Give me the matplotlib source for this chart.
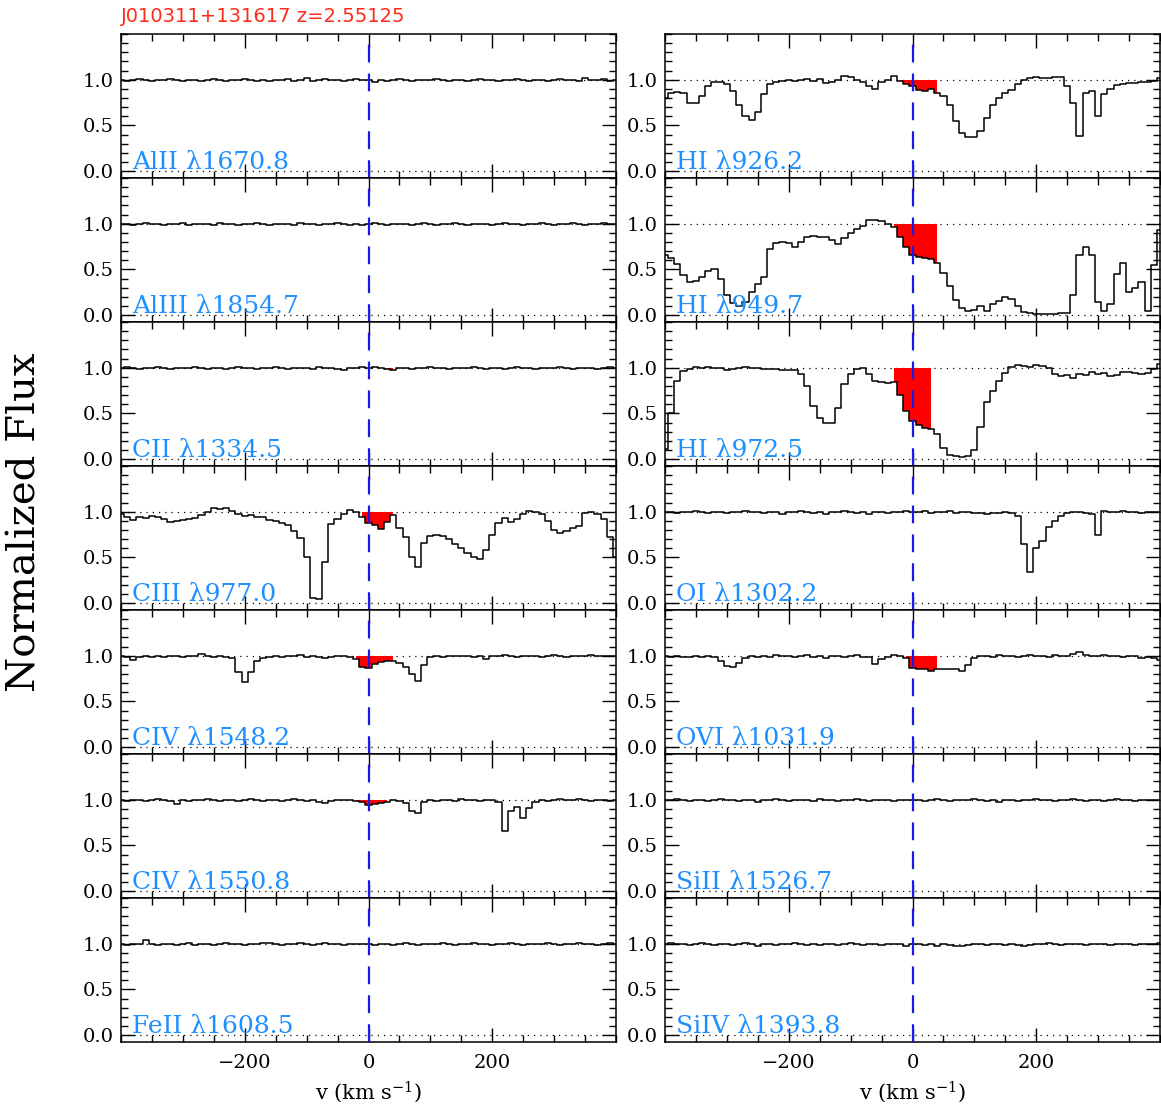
import numpy as np
import matplotlib
matplotlib.use("Agg")
import matplotlib.pyplot as plt
from matplotlib.ticker import MultipleLocator, FixedLocator

plt.rcParams['font.family'] = 'DejaVu Serif'
plt.rcParams['mathtext.fontset'] = 'dejavuserif'

# velocity grid (km/s), 10 km/s pixels
vel = np.arange(-400, 401, 10)

title = "J010311+131617 z=2.55125"

# left column, top to bottom
left_labels = ["AlII λ1670.8", "AlIII λ1854.7", "CII λ1334.5", "CIII λ977.0",
               "CIV λ1548.2", "CIV λ1550.8", "FeII λ1608.5"]
# right column, top to bottom
right_labels = ["HI λ926.2", "HI λ949.7", "HI λ972.5", "OI λ1302.2",
                "OVI λ1031.9", "SiII λ1526.7", "SiIV λ1393.8"]

# normalized flux, v = -400 ... 400
alii_1670 = [1.00, 0.99, 1.00, 1.01, 1.00, 0.99, 1.00, 1.00, 1.01, 1.00,
             0.99, 1.00, 1.00, 0.99, 1.00, 1.01, 1.00, 0.99, 1.00, 1.00,
             1.01, 1.00, 0.99, 1.00, 0.99, 1.00, 1.00, 1.01, 0.99, 1.00,
             1.02, 0.99, 1.00, 1.01, 1.00, 1.00, 0.99, 1.00, 1.01, 1.00,
             1.00, 0.97, 1.00, 0.99, 1.00, 1.01, 1.00, 0.99, 1.00, 1.00,
             1.00, 1.01, 1.00, 0.99, 1.00, 1.00, 0.99, 1.00, 1.01, 1.00,
             1.00, 0.99, 1.00, 1.00, 1.01, 1.00, 0.99, 1.00, 1.00, 0.99,
             1.00, 1.01, 1.00, 1.00, 0.99, 1.02, 1.00, 1.00, 1.01, 0.99,
             1.00]
aliii_1854 = [1.00, 1.00, 0.99, 1.00, 1.01, 1.00, 1.00, 0.99, 1.00, 1.00,
              1.01, 0.99, 1.00, 1.00, 1.00, 0.99, 1.01, 1.00, 1.00, 0.99,
              1.00, 1.00, 1.01, 1.00, 0.99, 1.00, 1.00, 1.00, 0.99, 1.01,
              1.00, 1.00, 0.99, 1.00, 1.00, 1.01, 1.00, 0.99, 1.00, 0.99,
              1.00, 1.01, 1.00, 0.99, 1.00, 1.00, 1.00, 0.99, 1.00, 1.01,
              1.00, 0.99, 1.00, 1.00, 1.01, 1.00, 0.99, 1.00, 1.00, 1.00,
              0.99, 1.00, 1.01, 1.00, 1.00, 0.99, 1.00, 1.00, 1.01, 1.00,
              0.99, 1.00, 1.00, 1.01, 1.00, 0.99, 1.00, 1.00, 1.01, 1.00,
              1.00]
cii_1334 = [1.00, 1.01, 1.00, 0.99, 1.00, 1.00, 1.01, 1.00, 0.99, 1.00,
            1.00, 1.00, 1.01, 1.00, 0.99, 1.00, 1.00, 0.99, 1.00, 1.01,
            1.00, 1.00, 0.99, 1.00, 1.00, 1.01, 1.00, 0.99, 1.00, 1.00,
            1.00, 0.99, 1.01, 1.00, 1.00, 0.99, 0.98, 1.00, 1.00, 1.01,
            1.00, 1.01, 1.00, 0.99, 0.97, 1.00, 1.00, 0.99, 1.00, 1.00,
            1.01, 1.00, 1.00, 0.99, 1.00, 1.00, 1.00, 1.01, 1.00, 0.99,
            1.00, 1.00, 0.99, 1.00, 1.01, 1.00, 1.00, 0.99, 1.00, 1.00,
            1.00, 1.01, 1.00, 0.99, 1.00, 1.00, 1.00, 0.99, 1.00, 1.01,
            1.00]
ciii_977 = [0.98, 0.94, 0.91, 0.94, 0.93, 0.95, 0.94, 0.92, 0.89, 0.90,
            0.91, 0.92, 0.93, 0.96, 1.00, 1.04, 1.03, 1.04, 1.01, 0.98,
            0.95, 0.96, 0.94, 0.94, 0.91, 0.90, 0.88, 0.85, 0.79, 0.71,
            0.50, 0.06, 0.04, 0.45, 0.87, 0.92, 0.97, 1.02, 1.00, 0.94,
            0.88, 0.86, 0.81, 0.89, 0.96, 0.82, 0.72, 0.50, 0.40, 0.66,
            0.73, 0.74, 0.73, 0.70, 0.65, 0.60, 0.55, 0.51, 0.48, 0.58,
            0.74, 0.88, 0.93, 0.89, 0.92, 0.98, 1.01, 1.00, 0.97, 0.90,
            0.80, 0.77, 0.79, 0.82, 0.84, 0.99, 1.00, 0.98, 0.92, 0.72,
            0.50]
civ_1548 = [1.00, 0.99, 0.95, 0.99, 1.00, 0.99, 1.00, 0.99, 1.00, 1.00,
            0.99, 1.00, 1.00, 1.02, 1.00, 0.99, 1.00, 0.99, 0.97, 0.82,
            0.71, 0.82, 0.94, 0.98, 0.99, 1.00, 0.99, 1.00, 1.00, 1.01,
            0.99, 1.00, 0.99, 0.98, 0.99, 1.00, 1.00, 0.99, 0.96, 0.88,
            0.87, 0.91, 0.93, 0.94, 0.94, 0.92, 0.88, 0.80, 0.72, 0.90,
            0.99, 1.00, 0.99, 1.00, 1.00, 1.00, 1.00, 0.99, 1.00, 0.96,
            1.00, 1.00, 1.01, 1.00, 0.99, 1.00, 1.00, 1.00, 0.99, 1.00,
            1.01, 1.00, 0.99, 1.00, 1.00, 1.00, 1.01, 1.00, 1.00, 1.00,
            1.00]
civ_1550 = [1.00, 0.99, 1.00, 1.00, 0.99, 1.00, 1.01, 1.00, 0.99, 0.95,
            1.00, 0.99, 1.00, 1.00, 1.01, 1.00, 0.99, 1.00, 1.00, 0.99,
            1.00, 1.01, 1.00, 0.99, 1.00, 1.00, 0.99, 1.00, 1.01, 1.00,
            0.99, 1.00, 0.98, 0.96, 0.99, 1.00, 1.00, 1.00, 0.99, 0.97,
            0.94, 0.95, 0.96, 0.97, 1.00, 0.99, 0.96, 0.88, 0.86, 0.97,
            1.00, 0.99, 1.00, 1.00, 0.99, 1.01, 1.00, 1.00, 0.99, 1.00,
            1.00, 0.97, 0.66, 0.88, 0.92, 0.80, 0.91, 0.97, 1.00, 0.99,
            1.00, 1.01, 1.00, 1.00, 1.01, 1.00, 0.99, 1.00, 1.00, 0.99,
            1.00]
feii_1608 = [1.00, 0.99, 1.00, 1.00, 1.04, 1.00, 0.99, 1.00, 1.00, 0.99,
             1.00, 1.01, 0.99, 1.00, 1.00, 0.99, 1.00, 1.01, 1.00, 1.00,
             0.99, 1.00, 1.00, 1.01, 1.01, 1.00, 0.99, 1.00, 1.00, 1.01,
             1.00, 0.99, 1.00, 1.01, 1.00, 1.00, 0.99, 1.00, 1.00, 1.00,
             1.00, 0.99, 1.00, 1.00, 0.99, 1.00, 1.01, 1.00, 0.99, 1.00,
             1.00, 1.00, 1.01, 1.00, 0.99, 1.00, 1.00, 1.01, 1.00, 1.00,
             0.99, 1.00, 1.00, 1.01, 1.00, 0.99, 1.00, 1.00, 1.00, 1.01,
             1.00, 0.99, 1.00, 1.00, 1.01, 1.00, 1.00, 0.99, 1.00, 1.01,
             1.00]
hi_926 = [0.80, 0.86, 0.87, 0.86, 0.75, 0.74, 0.82, 0.93, 0.98, 0.97,
          0.95, 0.88, 0.72, 0.60, 0.56, 0.65, 0.84, 0.95, 0.98, 0.99,
          1.00, 0.99, 1.00, 1.01, 0.99, 1.01, 0.96, 0.98, 1.00, 1.04,
          1.03, 1.00, 0.98, 0.93, 0.90, 0.98, 1.00, 1.04, 0.99, 0.95,
          0.93, 0.89, 0.88, 0.90, 0.86, 0.82, 0.72, 0.55, 0.42, 0.37,
          0.37, 0.44, 0.58, 0.72, 0.80, 0.85, 0.89, 0.95, 1.00, 1.02,
          1.03, 1.02, 1.02, 1.03, 1.03, 0.93, 0.75, 0.38, 0.85, 0.88,
          0.60, 0.84, 0.90, 0.94, 0.95, 0.96, 0.96, 0.97, 0.97, 0.99,
          1.02]
hi_949 = [0.66, 0.63, 0.56, 0.44, 0.36, 0.37, 0.42, 0.48, 0.50, 0.40,
          0.22, 0.13, 0.10, 0.14, 0.25, 0.34, 0.42, 0.72, 0.79, 0.80,
          0.79, 0.74, 0.80, 0.86, 0.87, 0.85, 0.86, 0.82, 0.78, 0.84,
          0.90, 0.94, 0.98, 1.04, 1.04, 1.03, 1.00, 0.96, 0.86, 0.75,
          0.66, 0.64, 0.62, 0.61, 0.57, 0.46, 0.32, 0.17, 0.08, 0.04,
          0.06, 0.10, 0.05, 0.12, 0.16, 0.20, 0.18, 0.10, 0.03, 0.02,
          0.01, 0.01, 0.01, 0.01, 0.02, 0.02, 0.22, 0.66, 0.75, 0.66,
          0.14, 0.04, 0.12, 0.45, 0.57, 0.25, 0.30, 0.36, 0.05, 0.55,
          0.93]
hi_972 = [0.11, 0.50, 0.85, 0.96, 0.99, 1.01, 1.00, 1.01, 1.00, 1.00,
          0.97, 0.99, 1.00, 1.01, 1.00, 1.00, 0.99, 0.99, 0.99, 0.98,
          0.98, 0.97, 0.93, 0.80, 0.58, 0.45, 0.39, 0.40, 0.56, 0.82,
          0.93, 0.99, 1.00, 0.93, 0.85, 0.84, 0.83, 0.84, 0.70, 0.53,
          0.42, 0.37, 0.34, 0.33, 0.27, 0.12, 0.05, 0.03, 0.02, 0.03,
          0.10, 0.35, 0.62, 0.74, 0.85, 0.94, 1.01, 1.03, 1.02, 1.01,
          1.03, 1.02, 1.00, 0.93, 0.91, 0.92, 0.89, 0.93, 0.92, 0.95,
          0.93, 0.94, 0.91, 0.92, 0.95, 0.95, 0.94, 0.93, 0.94, 0.99,
          1.04]
oi_1302 = [1.00, 1.00, 0.99, 1.00, 1.00, 1.01, 1.00, 0.99, 1.00, 1.00,
           0.99, 1.00, 1.00, 1.01, 1.00, 1.00, 0.99, 1.00, 1.00, 0.98,
           1.00, 1.00, 1.01, 1.00, 0.99, 1.00, 0.97, 1.00, 1.00, 1.01,
           1.00, 0.99, 1.00, 0.98, 1.00, 1.00, 0.99, 1.00, 1.00, 1.01,
           1.00, 1.00, 1.01, 0.99, 1.00, 1.00, 1.01, 0.99, 1.00, 1.00,
           0.99, 0.99, 0.98, 0.99, 0.99, 1.00, 0.99, 0.95, 0.65, 0.34,
           0.60, 0.68, 0.83, 0.90, 0.95, 0.99, 1.00, 1.00, 0.99, 0.98,
           0.74, 1.01, 1.00, 1.00, 1.01, 1.00, 1.00, 0.99, 1.00, 1.00,
           1.00]
ovi_1031 = [1.00, 0.99, 1.00, 0.99, 0.99, 1.00, 0.99, 1.00, 0.99, 0.94,
            0.89, 0.88, 0.92, 0.98, 1.00, 0.99, 1.00, 0.99, 1.01, 1.00,
            1.00, 0.99, 1.00, 1.01, 0.99, 1.00, 0.98, 1.00, 1.00, 0.99,
            1.00, 1.01, 0.99, 0.99, 0.91, 0.96, 0.99, 1.01, 1.00, 0.97,
            0.87, 0.86, 0.85, 0.83, 0.86, 0.86, 0.86, 0.85, 0.83, 0.90,
            0.98, 1.00, 1.00, 0.99, 1.01, 1.00, 1.00, 0.99, 1.00, 1.01,
            1.00, 1.00, 0.99, 1.01, 1.00, 1.00, 1.02, 1.04, 1.01, 1.00,
            1.00, 1.01, 1.00, 1.00, 0.99, 1.00, 1.00, 0.98, 0.99, 0.97,
            0.95]
sii_1526 = [1.00, 1.00, 1.01, 1.00, 0.99, 1.00, 1.00, 0.99, 1.00, 1.01,
            1.00, 1.00, 0.99, 1.00, 1.00, 0.98, 1.00, 1.00, 1.01, 1.00,
            0.99, 1.00, 1.00, 1.00, 0.99, 1.01, 1.00, 1.00, 0.99, 1.00,
            1.00, 1.01, 1.00, 0.99, 1.00, 1.00, 1.00, 0.99, 1.00, 1.00,
            1.00, 1.00, 0.99, 1.00, 1.01, 1.00, 0.99, 1.00, 1.00, 1.00,
            1.01, 1.00, 0.99, 1.00, 0.98, 1.00, 1.00, 0.99, 1.00, 1.00,
            1.01, 1.00, 1.00, 0.99, 1.00, 1.00, 1.01, 1.00, 0.99, 1.00,
            1.00, 0.99, 1.00, 1.01, 1.00, 1.00, 0.99, 1.00, 1.00, 1.00,
            1.00]
siiv_1393 = [1.00, 1.01, 1.00, 1.00, 0.99, 1.00, 1.01, 1.00, 0.99, 1.00,
             1.00, 0.99, 1.00, 1.01, 1.00, 0.98, 1.00, 1.00, 0.99, 1.00,
             1.00, 1.01, 1.00, 0.99, 1.00, 0.99, 1.00, 1.00, 0.99, 1.00,
             1.01, 1.00, 0.99, 1.00, 1.00, 0.99, 1.00, 1.00, 1.00, 0.97,
             1.00, 1.00, 0.99, 1.00, 0.98, 1.00, 0.99, 0.98, 0.97, 0.99,
             1.00, 1.00, 0.99, 1.00, 1.00, 0.99, 1.00, 0.99, 0.97, 0.99,
             1.00, 1.00, 1.01, 1.00, 0.99, 1.00, 1.00, 1.00, 0.99, 1.00,
             1.00, 1.00, 0.99, 1.00, 1.00, 1.00, 0.99, 1.00, 1.00, 1.00,
             1.01]

left_flux = [alii_1670, aliii_1854, cii_1334, ciii_977, civ_1548, civ_1550, feii_1608]
right_flux = [hi_926, hi_949, hi_972, oi_1302, ovi_1031, sii_1526, siiv_1393]

# velocity window of the red shaded component (inclusive grid points)
left_win = [(-20, 40), (-20, 40), (-20, 40), (-20, 40), (-20, 40), (-20, 30), (-20, 40)]
right_win = [(-20, 40), (-30, 40), (-30, 30), (-20, 40), (-20, 40), (-20, 40), (-20, 40)]

W, H = 1161, 1106
fig = plt.figure(figsize=(W / 100, H / 100), dpi=100)

label_col = '#1e8fff'


def draw_panel(ax, flux, label, win, bottom):
    flux = np.asarray(flux)
    ax.axhline(1.0, color='black', ls=(0, (1, 4)), lw=0.9, zorder=1)
    ax.axhline(0.0, color='black', ls=(0, (1, 4)), lw=0.9, zorder=1)
    m = (vel >= win[0]) & (vel <= win[1])
    ax.fill_between(vel[m], flux[m], 1.0, where=flux[m] < 1.0, step='mid',
                    color='red', lw=0, zorder=2)
    ax.plot(vel, flux, drawstyle='steps-mid', color='black', lw=1.1, zorder=3)
    ax.axvline(0, color='#1a1ae6', lw=1.6, ls=(0, (8, 5)), zorder=4)
    ax.set_xlim(-400, 400)
    ax.set_ylim(-0.075, 1.5)
    ax.xaxis.set_major_locator(FixedLocator([-200, 0, 200]))
    ax.xaxis.set_minor_locator(MultipleLocator(50))
    ax.yaxis.set_major_locator(FixedLocator([0.0, 0.5, 1.0]))
    ax.yaxis.set_minor_locator(MultipleLocator(0.1))
    ax.yaxis.set_major_formatter(plt.FormatStrFormatter('%.1f'))
    ax.tick_params(which='both', direction='in', top=True, right=True,
                   width=1, labelsize=14)
    ax.tick_params(which='major', length=10)
    ax.tick_params(which='minor', length=5)
    ax.tick_params(axis='y', pad=5)
    ax.tick_params(axis='x', pad=9)
    if not bottom:
        ax.tick_params(axis='x', labelbottom=False)
    for s in ax.spines.values():
        s.set_linewidth(1.1)
    ax.text(0.022, 0.065, label, transform=ax.transAxes, color=label_col,
            fontsize=18, ha='left', va='baseline', zorder=5)


row_h = 144
top0 = 34
for col, (x0, labels, fluxes, wins) in enumerate([(121, left_labels, left_flux, left_win),
                                                 (665, right_labels, right_flux, right_win)]):
    for i in range(7):
        bottom_px = top0 + row_h * (i + 1)
        ax = fig.add_axes([x0 / W, 1 - bottom_px / H, 495 / W, row_h / H])
        draw_panel(ax, fluxes[i], labels[i], wins[i], i == 6)
    fig.text((x0 + 248) / W, 1 - 1092 / H, 'v (km s$^{-1}$)', ha='center',
             va='center', fontsize=15)

fig.text(121 / W, 1 - 17 / H, title, color='#ff2a1a', family='DejaVu Sans',
         fontsize=14, ha='left', va='center')
fig.text(25 / W, 1 - 522 / H, 'Normalized Flux', rotation=90, ha='center',
         va='center', fontsize=29)

fig.savefig('out.png', dpi=100)
